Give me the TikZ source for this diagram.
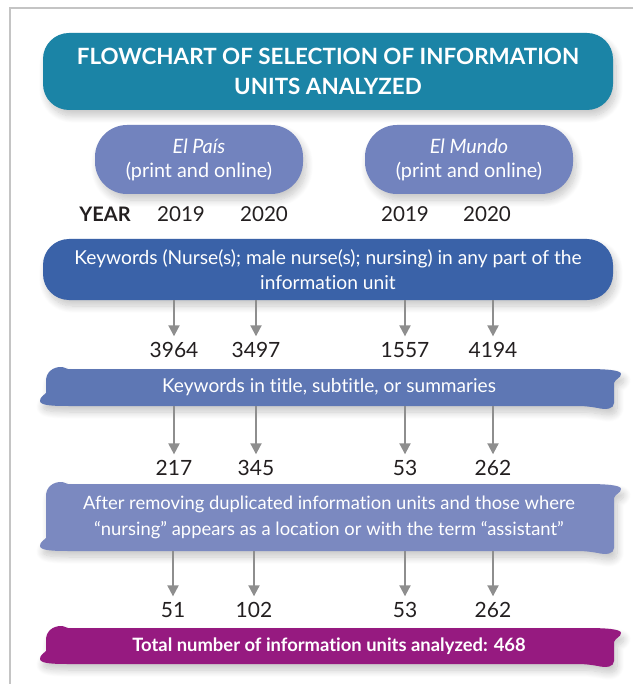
\documentclass[tikz,border=0pt]{standalone}
\usepackage{fontspec}
\setmainfont{Lato}[Ligatures=NoCommon]
\usetikzlibrary{arrows.meta}
\usetikzlibrary{shadows.blur}
\definecolor{headteal}{HTML}{1B84A6}
\definecolor{paperblue}{HTML}{7283BE}
\definecolor{kwblue}{HTML}{3A62A8}
\definecolor{bandblue}{HTML}{5E77B4}
\definecolor{bandlilac}{HTML}{7B89C0}
\definecolor{totalpurple}{HTML}{961A80}
\definecolor{arrowgray}{HTML}{8E8E8E}
\definecolor{framegray}{HTML}{C4C4C4}
\definecolor{ink}{HTML}{231F20}
\tikzset{%
  soft/.style = {blur shadow={shadow xshift=3pt,shadow yshift=-6pt,
        shadow blur radius=7pt,shadow blur steps=12,shadow opacity=22}},
  head/.style = {rectangle,rounded corners=26pt,fill=headteal,soft,
        text=white,align=center,minimum width=570pt,minimum height=77pt,
        font=\fontsize{22.4}{30}\selectfont\bfseries},
  paper/.style = {rectangle,rounded corners=32pt,fill=paperblue,soft,
        text=white,align=center,minimum width=208pt,minimum height=69pt,
        font=\fontsize{19.8}{24}\selectfont},
  kw/.style = {rectangle,rounded corners=26pt,fill=kwblue,soft,
        text=white,align=center,minimum width=570pt,minimum height=61pt,
        font=\fontsize{19.2}{25}\selectfont},
  band/.style = {rectangle,text=white,align=center,inner sep=0pt,
        minimum width=574pt,font=\fontsize{18.4}{26}\selectfont},
  num/.style = {text=ink,inner sep=0pt,outer sep=6pt,
        font=\fontsize{21}{22}\selectfont},
  yr/.style = {text=ink,inner sep=0pt,font=\fontsize{20.6}{22}\selectfont},
  arr/.style = {-{Triangle[length=11pt,width=11pt]},draw=arrowgray,
        line width=2pt}
}
% brush-stroke bar: colour, top, bottom (x runs from 40 to 621)
\newcommand\brushbar[3]{%
  \fill[#1,soft] (68,#2) -- (585,#2)
    .. controls (606,#2) and (621,#2+1) .. (621,#2+5)
    .. controls (621,#2+9) and (615,#2+10) .. (614,#2+14)
    -- (614,#3-3)
    .. controls (614,#3+3) and (606,#3+4) .. (598,#3+2)
    .. controls (592,#3+1) and (586,#3) .. (578,#3)
    -- (72,#3)
    .. controls (56,#3) and (40,#3) .. (40,#3-5)
    .. controls (40,#3-9) and (44,#3-11) .. (46,#3-13)
    -- (46,#2+12)
    .. controls (46,#2+3) and (53,#2-2) .. (61,#2-2)
    .. controls (65,#2-2) and (66,#2) .. (68,#2) -- cycle;}

\begin{document}
\begin{tikzpicture}[x=1pt,y=-1pt]
  \useasboundingbox (0,0) rectangle (633,684);
  \draw[framegray,line width=1.5pt] (633,8) -- (10,8) -- (10,684);

  \node[head] (title) at (328,71.5)
        {FLOWCHART OF SELECTION OF INFORMATION\\UNITS ANALYZED};
  \node[paper] (pais) at (199,159.5) {\textit{El País}\\(print and online)};
  \node[paper] (mundo) at (469,159.5) {\textit{El Mundo}\\(print and online)};

  % years
  \node[yr,font=\fontsize{20}{22}\selectfont\bfseries] (year) at (105,214) {YEAR};
  \node[yr] (y1) at (181,214) {2019};
  \node[yr] (y2) at (264,214) {2020};
  \node[yr] (y3) at (405,214) {2019};
  \node[yr] (y4) at (487,214) {2020};

  \node[kw] (kw) at (328,269.5)
        {Keywords (Nurse(s); male nurse(s); nursing) in any part of the\\information unit};

  \node[num] (a1) at (174,350) {3964};
  \node[num] (a2) at (256,350) {3497};
  \node[num] (a3) at (405,350) {1557};
  \node[num] (a4) at (493,350) {4194};
  \draw[arr] (kw.south -| a1) -- (a1);
  \draw[arr] (kw.south -| a2) -- (a2);
  \draw[arr] (kw.south -| a3) -- (a3);
  \draw[arr] (kw.south -| a4) -- (a4);

  \brushbar{bandblue}{369}{406}
  \node[band,minimum height=37pt,font=\fontsize{19.1}{26}\selectfont]
        (title2) at (329,387.5) {Keywords in title, subtitle, or summaries};

  \node[num] (b1) at (174,468) {217};
  \node[num] (b2) at (256,468) {345};
  \node[num] (b3) at (405,468) {53};
  \node[num] (b4) at (493,468) {262};
  \draw[arr] (title2.south -| b1) -- (b1);
  \draw[arr] (title2.south -| b2) -- (b2);
  \draw[arr] (title2.south -| b3) -- (b3);
  \draw[arr] (title2.south -| b4) -- (b4);

  \brushbar{bandlilac}{484}{551}
  \node[band,minimum height=67pt] (clean) at (329,517.5)
        {After removing duplicated information units and those where\\“nursing” appears as a location or with the term “assistant”};

  \node[num] (c1) at (173,610) {51};
  \node[num] (c2) at (254,610) {102};
  \node[num] (c3) at (405,610) {53};
  \node[num] (c4) at (493,610) {262};
  \draw[arr] (clean.south -| c1) -- (c1);
  \draw[arr] (clean.south -| c2) -- (c2);
  \draw[arr] (clean.south -| c3) -- (c3);
  \draw[arr] (clean.south -| c4) -- (c4);

  \brushbar{totalpurple}{628}{664}
  \node[band,minimum height=36pt,font=\fontsize{18.4}{22}\selectfont\bfseries]
        (total) at (329,646) {Total number of information units analyzed: 468};
\end{tikzpicture}
\end{document}
